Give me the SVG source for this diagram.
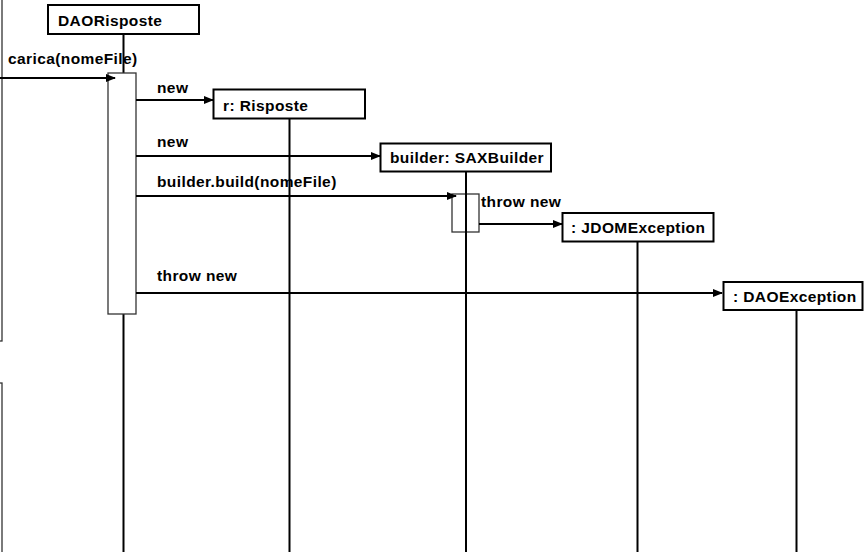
<svg xmlns="http://www.w3.org/2000/svg" width="865" height="552" viewBox="0 0 865 552">
  <style>
    .obj { fill: #fff; stroke: #000; stroke-width: 2; }
    .act { fill: #fff; stroke: #333; stroke-width: 1.3; }
    .life { stroke: #000; stroke-width: 2; fill: none; }
    .msg { stroke: #000; stroke-width: 2; fill: none; marker-end: url(#arrow); }
    .frame { fill: none; stroke: #333; stroke-width: 1.3; }
    text { font-family: "Liberation Sans", Arial, sans-serif; font-weight: bold; font-size: 15.5px; letter-spacing: 0.4px; fill: #000; }
  </style>
  <defs>
    <marker id="arrow" markerWidth="10" markerHeight="8" refX="9" refY="4" orient="auto" markerUnits="userSpaceOnUse">
      <path d="M0,0 L10,4 L0,8 Z" fill="#000"/>
    </marker>
  </defs>
  <rect width="865" height="552" fill="#fff"/>

  <!-- frames cut by the left edge -->
  <rect class="frame" x="-10" y="-10" width="12" height="351"/>
  <rect class="frame" x="-10" y="383" width="12" height="200"/>

  <!-- lifelines -->
  <g id="lifelines">
    <line class="life" x1="123.5" y1="34" x2="123.5" y2="552"/>
    <line class="life" x1="289.5" y1="119" x2="289.5" y2="552"/>
    <line class="life" x1="466" y1="172" x2="466" y2="552"/>
    <line class="life" x1="637.5" y1="242" x2="637.5" y2="552"/>
    <line class="life" x1="796.5" y1="310" x2="796.5" y2="552"/>
  </g>

  <!-- activations -->
  <rect class="act" x="108" y="73" width="28" height="241"/>
  <rect class="act" x="452" y="194" width="27" height="38"/>
  <line class="life" x1="466" y1="190" x2="466" y2="236"/>

  <g id="node-daorisposte">
    <rect class="obj" x="48" y="5" width="151" height="29"/>
    <text x="58" y="26">DAORisposte</text>
  </g>
  <g id="node-risposte">
    <rect class="obj" x="213.5" y="89.5" width="151.5" height="29"/>
    <text x="223" y="111">r: Risposte</text>
  </g>
  <g id="node-saxbuilder">
    <rect class="obj" x="380.5" y="143.5" width="170.5" height="28"/>
    <text x="390" y="163">builder: SAXBuilder</text>
  </g>
  <g id="node-jdomexception">
    <rect class="obj" x="562.5" y="213" width="151" height="28.5"/>
    <text x="571" y="233">: JDOMException</text>
  </g>
  <g id="node-daoexception">
    <rect class="obj" x="723.5" y="282" width="139" height="28"/>
    <text x="733" y="302">: DAOException</text>
  </g>

  <g id="connectors">
    <line class="msg" x1="0" y1="78" x2="115" y2="78"/>
    <text x="8" y="64">carica(nomeFile)</text>

    <line class="msg" x1="136" y1="100" x2="213" y2="100"/>
    <text x="157" y="93">new</text>

    <line class="msg" x1="136" y1="156" x2="380" y2="156"/>
    <text x="157" y="147">new</text>

    <line class="msg" x1="136" y1="196" x2="456" y2="196"/>
    <text x="157" y="187">builder.build(nomeFile)</text>

    <line class="msg" x1="479" y1="224" x2="562" y2="224"/>
    <text x="481" y="207">throw new</text>

    <line class="msg" x1="136" y1="293" x2="722" y2="293"/>
    <text x="157" y="281">throw new</text>
  </g>
</svg>
